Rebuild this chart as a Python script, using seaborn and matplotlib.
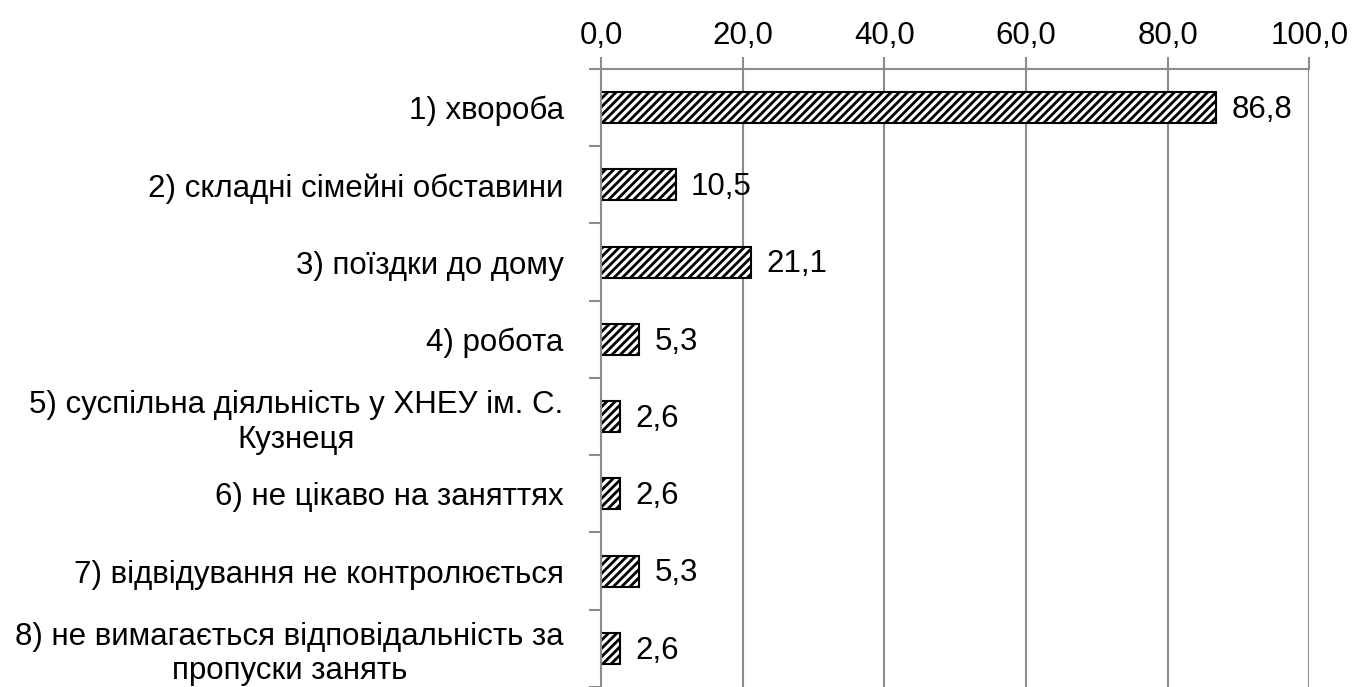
import matplotlib.pyplot as plt
import seaborn as sns
import numpy as np
import pandas as pd

categories = [
    "1) хвороба",
    "2) складні сімейні обставини",
    "3) поїздки до дому",
    "4) робота",
    "5) суспільна діяльність у ХНЕУ ім. С.\nКузнеця",
    "6) не цікаво на заняттях",
    "7) відвідування не контролюється",
    "8) не вимагається відповідальність за\nпропуски занять",
]
values = [86.8, 10.5, 21.1, 5.3, 2.6, 2.6, 5.3, 2.6]
x_ticks = [0, 20, 40, 60, 80, 100]

sns.set_style("white")
plt.rcParams['font.family'] = ['Liberation Sans', 'DejaVu Sans']
plt.rcParams['hatch.linewidth'] = 2.0
plt.rcParams['text.color'] = 'black'
plt.rcParams['xtick.color'] = 'black'
plt.rcParams['ytick.color'] = 'black'

df = pd.DataFrame({"cat": categories, "val": values})

fig = plt.figure(figsize=(13.54, 6.87), dpi=100)
ax = fig.add_axes([0.444, 0.0, 0.523, 0.8996])

sns.barplot(data=df, y="cat", x="val", orient="h", color="white",
            edgecolor="black", linewidth=1.5, width=0.4, ax=ax)
for p in ax.patches:
    p.set_hatch("////")
    p.set_facecolor("white")

ax.set_xlim(0, 100)
ax.set_ylim(len(categories) - 0.5, -0.5)
ax.xaxis.tick_top()
ax.set_xticks(x_ticks)
ax.set_xticklabels([f"{t:.1f}".replace(".", ",") for t in x_ticks], fontsize=22.5)
ax.tick_params(axis="x", direction="out", length=9, color="#8c8c8c", width=1.5, pad=4,
               top=True, labelcolor="black")
ax.grid(axis="x", color="#8c8c8c", linewidth=1.5)
ax.set_axisbelow(True)

ax.set_yticks(range(len(categories)))
ax.set_yticklabels(categories, fontsize=22.5, multialignment="center")
ax.tick_params(axis="y", which="major", length=0, pad=27, labelcolor="black")
ax.set_yticks(np.arange(-0.5, len(categories), 1), minor=True)
ax.tick_params(axis="y", which="minor", left=True, direction="out", length=9,
               color="#8c8c8c", width=1.5)

ax.set_xlabel("")
ax.set_ylabel("")
for s in ["right", "bottom"]:
    ax.spines[s].set_visible(False)
for s in ["top", "left"]:
    ax.spines[s].set_color("#8c8c8c")
    ax.spines[s].set_linewidth(1.5)

for i, v in enumerate(values):
    ax.text(v + 2.2, i + 0.03, f"{v:.1f}".replace(".", ","), va="center", ha="left", fontsize=22.5)

fig.savefig("out.png", dpi=100)
